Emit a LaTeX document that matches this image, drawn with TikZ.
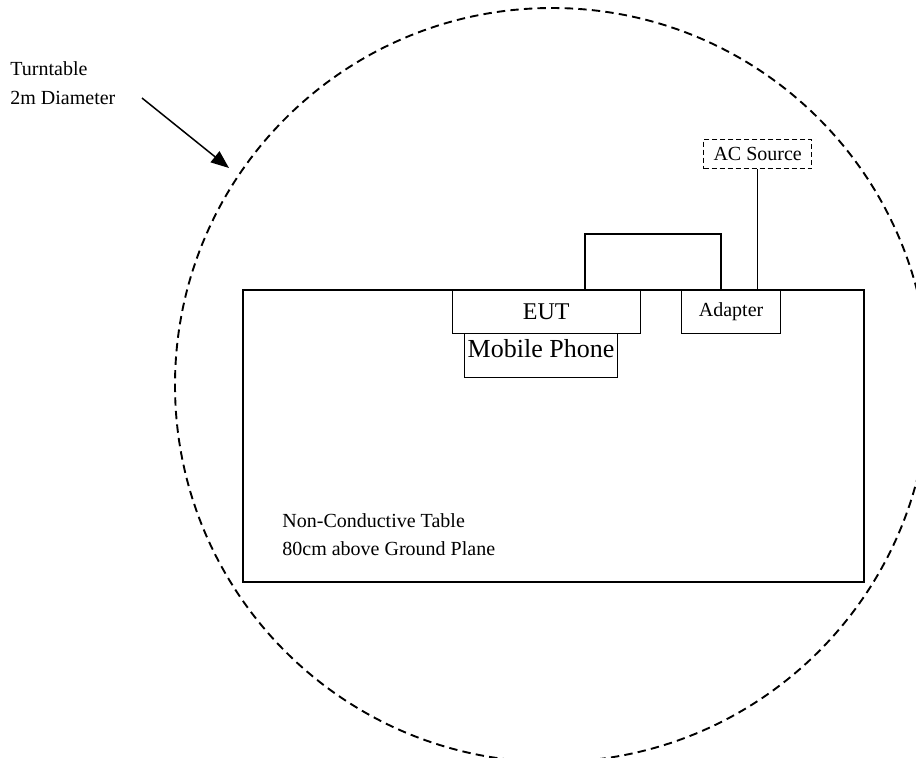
\documentclass[tikz,border=0pt]{standalone}
\usepackage{fontspec}
\setmainfont{Liberation Serif}
\usetikzlibrary{arrows.meta}
\tikzset{
  unitbox/.style={draw, line width=0.5pt, inner sep=0pt, anchor=north west},
  smalltext/.style={font=\fontsize{10}{12}\selectfont},
}
\begin{document}
\begin{tikzpicture}[x=0.5pt,y=-0.5pt]
  \useasboundingbox (0,0) rectangle (916,757);
  \clip (0,0) rectangle (916,757);
  % turntable
  \draw[line width=0.95pt, dash pattern=on 4.2pt off 2.6pt] (552,385) circle[radius=188.5pt];
  \node[smalltext, anchor=base west, inner sep=0pt] (ttname) at (10,75) {Turntable};
  \node[smalltext, anchor=base west, inner sep=0pt] (ttdiam) at (10,104) {2m Diameter};
  \coordinate (arrowstart) at (142,98);
  \coordinate (arrowend) at (229,168);
  \draw[line width=0.75pt, -{Triangle[length=9pt,width=7pt]}] (arrowstart) -- (arrowend);
  % table
  \node[draw, line width=1pt, inner sep=0pt, anchor=north west, minimum width=310.5pt, minimum height=146pt] (table) at (242,289) {};
  \node[smalltext, anchor=base west, inner sep=0pt] (tabname) at (282,527) {Non-Conductive Table};
  \node[smalltext, anchor=base west, inner sep=0pt] (tabheight) at (282,555) {80cm above Ground Plane};
  % devices
  \node[unitbox, minimum width=93.8pt, minimum height=22pt, font=\fontsize{12}{14}\selectfont] (eut) at (452,289) {EUT};
  \node[unitbox, minimum width=76.5pt, minimum height=22pt, text depth=7pt, font=\fontsize{13}{15}\selectfont] (phone) at (464,333) {Mobile Phone};
  \node[unitbox, smalltext, minimum width=49.6pt, minimum height=22pt] (adapter) at (681,289) {Adapter};
  \node[unitbox, smalltext, dash pattern=on 2.5pt off 1.5pt, minimum width=54.2pt, minimum height=14.5pt] (ac) at (703,139) {AC Source};
  % cables
  \coordinate (loopL) at (585,234);
  \coordinate (loopR) at (721,234);
  \draw[line width=0.75pt] (eut.north -| loopL) -- (loopL) -- (loopR) -- (adapter.north -| loopR);
  \draw[line width=0.5pt] (ac.south) -- (ac.south |- adapter.north);
\end{tikzpicture}
\end{document}
